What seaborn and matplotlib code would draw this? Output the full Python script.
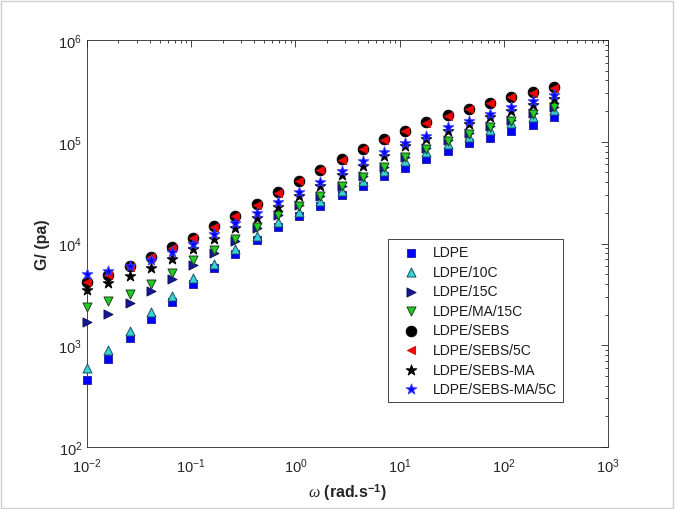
import numpy as np
import pandas as pd
import seaborn as sns
import matplotlib.pyplot as plt
from matplotlib.patches import Rectangle
from matplotlib.ticker import LogLocator

# --- data ---
omega = [0.01, 0.016, 0.0256, 0.0408, 0.0653, 0.104, 0.167, 0.266, 0.425, 0.68,
         1.09, 1.74, 2.78, 4.43, 7.09, 11.3, 18.1, 28.9, 46.2, 73.9, 118, 189, 300]

ldpe = [459, 733, 1180, 1810, 2680, 4000, 5700, 7880, 10900, 14400, 18700, 23500,
        30000, 37000, 46400, 55200, 67600, 80500, 97200, 110000, 128600, 147000, 174000]
ldpe_10c = [593, 904, 1370, 2110, 3070, 4550, 6290, 8830, 11800, 16100, 20300, 26400,
            33000, 41400, 52000, 65100, 78700, 95000, 110600, 130000, 153000, 176000, 206000]
ldpe_15c = [1707, 2030, 2580, 3390, 4480, 6150, 8070, 10700, 14300, 19200, 23800, 29500,
            36800, 45800, 56800, 71000, 86000, 104000, 121000, 142000, 162000, 190000, 222000]
ldpe_ma_15c = [2360, 2720, 3210, 4000, 5130, 6940, 8700, 11100, 14400, 19000, 23500, 29100,
               36500, 45400, 56100, 70300, 84900, 102400, 119000, 140000, 159000, 187000, 218000]
ldpe_sebs = [4220, 4900, 5970, 7420, 9180, 11300, 14700, 18700, 24400, 31800, 41400, 53100,
             67600, 84900, 106000, 128600, 155000, 183000, 210000, 242000, 277000, 306000, 343000]
ldpe_sebs_5c = [4150, 4850, 5900, 7350, 9100, 11200, 14500, 18500, 24100, 31400, 40900, 52500,
                66800, 84000, 105000, 127000, 153000, 181000, 208000, 239000, 273000, 302000, 338000]
ldpe_sebs_ma = [3490, 4090, 4760, 5780, 7050, 8830, 11100, 14100, 17700, 22700, 29100, 37000,
                47100, 58200, 72900, 90200, 106400, 128600, 149000, 174000, 202000, 231000, 263000]
ldpe_sebs_ma_5c = [5000, 5340, 6060, 6890, 8180, 9890, 12400, 15800, 19900, 25400, 31800, 40500,
                   51600, 64300, 78700, 97200, 114800, 138600, 161000, 189000, 221000, 253000, 290000]

labels = ['LDPE', 'LDPE/10C', 'LDPE/15C', 'LDPE/MA/15C', 'LDPE/SEBS',
          'LDPE/SEBS/5C', 'LDPE/SEBS-MA', 'LDPE/SEBS-MA/5C']
series = [ldpe, ldpe_10c, ldpe_15c, ldpe_ma_15c, ldpe_sebs,
          ldpe_sebs_5c, ldpe_sebs_ma, ldpe_sebs_ma_5c]

# marker, face, edge, size
styles = {
    'LDPE':            ('s', '#0000ff', '#2a2aa8', 32),
    'LDPE/10C':        ('^', '#35d3d3', '#1f4f66', 42),
    'LDPE/15C':        ('>', '#16169a', '#101060', 42),
    'LDPE/MA/15C':     ('v', '#22cc22', '#1f3f1f', 42),
    'LDPE/SEBS':       ('o', '#000000', '#000000', 58),
    'LDPE/SEBS/5C':    ('<', '#ff0000', '#cc1111', 34),
    'LDPE/SEBS-MA':    ('*', '#000000', '#000000', 64),
    'LDPE/SEBS-MA/5C': ('*', '#0000ff', '#3a3aff', 64),
}

df = pd.DataFrame({lab: vals for lab, vals in zip(labels, series)})
df['omega'] = omega

sns.set_theme(style='white')
plt.rcParams['font.family'] = ['Liberation Sans', 'DejaVu Sans']
plt.rcParams['axes.unicode_minus'] = False
plt.rcParams['mathtext.fontset'] = 'custom'
plt.rcParams['mathtext.rm'] = 'Liberation Sans'
plt.rcParams['mathtext.it'] = 'Liberation Serif:italic'
plt.rcParams['mathtext.bf'] = 'Liberation Sans:bold'

fig = plt.figure(figsize=(6.75, 5.10), dpi=100)
ax = fig.add_axes([87 / 675, 62 / 510, 521 / 675, 407 / 510])

for lab in labels:
    mk, fc, ec, s = styles[lab]
    sns.scatterplot(x='omega', y=lab, data=df, ax=ax, marker=mk, color=fc,
                    edgecolor=ec, linewidth=0.7, s=s, label=lab, zorder=3,
                    clip_on=False)

ax.set_xscale('log')
ax.set_yscale('log')
ax.set_xlim(1e-2, 1e3)
ax.set_ylim(1e2, 1e6)
ax.xaxis.set_minor_locator(LogLocator(base=10, subs=np.arange(2, 10), numticks=20))
ax.yaxis.set_minor_locator(LogLocator(base=10, subs=np.arange(2, 10), numticks=20))

tick_col = '#262626'
ax.tick_params(which='both', direction='in', top=True, right=True,
               colors=tick_col, labelcolor=tick_col, width=0.6)
ax.tick_params(which='major', length=5, labelsize=10.5)
ax.tick_params(axis='x', which='major', pad=7)
ax.tick_params(which='minor', length=2.5)
for sp in ax.spines.values():
    sp.set_color(tick_col)
    sp.set_linewidth(0.6)

ax.set_ylabel('G/ (pa)', fontsize=11.5, fontweight='bold', color=tick_col, labelpad=6)
ax.set_xlabel(r'$\mathit{\omega}$ (rad.s$^{\mathbf{-1}}$)', fontsize=11.5,
              fontweight='bold', color=tick_col, labelpad=4)

leg = ax.legend(loc='upper left', bbox_to_anchor=(388 / 675, 1 - 240 / 510),
                bbox_transform=fig.transFigure, fontsize=10, frameon=True,
                fancybox=False, edgecolor=tick_col, framealpha=1,
                borderpad=0.45, handlelength=2.4, handletextpad=0.37,
                labelspacing=0.4, borderaxespad=0)
leg.get_frame().set_linewidth(0.6)
for t in leg.get_texts():
    t.set_color('#1a1a1a')

# thin grey frame round the whole picture
fig.patches.append(Rectangle((0.002, 0.002), 0.995, 0.995, transform=fig.transFigure,
                             fill=False, edgecolor='#cfcfcf', linewidth=1.0))

fig.savefig('out.png', dpi=100)
